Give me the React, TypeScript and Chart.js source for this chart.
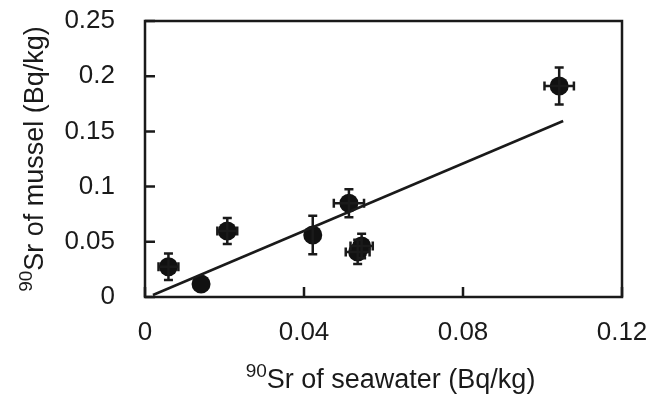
import React, { useEffect, useRef } from "react";
import { Chart, registerables } from "chart.js";

Chart.register(...registerables);

// Measured data (x: 90Sr of seawater, y: 90Sr of mussel), Bq/kg
const xValues = [0.0059, 0.0141, 0.0207, 0.0422, 0.0513, 0.0535, 0.0545, 0.1042];
const yValues = [0.0274, 0.0118, 0.0598, 0.0562, 0.0849, 0.0408, 0.0462, 0.1911];
const xErrors = [0.0025, 0, 0.0025, 0, 0.0038, 0.003, 0.0028, 0.0037];
const yErrors = [0.012, 0, 0.0118, 0.0175, 0.0127, 0.011, 0.011, 0.0168];

// Regression line end points
const fitX = [0.002, 0.1052];
const fitY = [0.0018, 0.1594];

// Axis ticks
const xTickValues = [0, 0.04, 0.08, 0.12];
const xTickLabels = ["0", "0.04", "0.08", "0.12"];
const yTickValues = [0, 0.05, 0.1, 0.15, 0.2, 0.25];
const yTickLabels = ["0", "0.05", "0.1", "0.15", "0.2", "0.25"];

const xTitleSup = "90";
const xTitleMain = "Sr of seawater (Bq/kg)";
const yTitleSup = "90";
const yTitleMain = "Sr of mussel (Bq/kg)";

const INK = "#1a1a1a";
const FONT = "'Liberation Sans', Arial, sans-serif";

const errorBarPlugin = {
  id: "errorBars",
  afterDatasetsDraw(chart: any) {
    const { ctx, scales } = chart;
    const xs = scales.x;
    const ys = scales.y;
    ctx.save();
    ctx.strokeStyle = INK;
    ctx.lineWidth = 2.5;
    const cap = 4.5;
    for (let i = 0; i < xValues.length; i++) {
      const px = xs.getPixelForValue(xValues[i]);
      const py = ys.getPixelForValue(yValues[i]);
      if (yErrors[i] > 0) {
        const t = ys.getPixelForValue(yValues[i] + yErrors[i]);
        const b = ys.getPixelForValue(yValues[i] - yErrors[i]);
        ctx.beginPath();
        ctx.moveTo(px, t); ctx.lineTo(px, b);
        ctx.moveTo(px - cap, t); ctx.lineTo(px + cap, t);
        ctx.moveTo(px - cap, b); ctx.lineTo(px + cap, b);
        ctx.stroke();
      }
      if (xErrors[i] > 0) {
        const l = xs.getPixelForValue(xValues[i] - xErrors[i]);
        const r = xs.getPixelForValue(xValues[i] + xErrors[i]);
        ctx.beginPath();
        ctx.moveTo(l, py); ctx.lineTo(r, py);
        ctx.moveTo(l, py - cap); ctx.lineTo(l, py + cap);
        ctx.moveTo(r, py - cap); ctx.lineTo(r, py + cap);
        ctx.stroke();
      }
    }
    ctx.restore();
  },
};

function drawSupTitle(ctx: any, sup: string, main: string, supRaise: number) {
  ctx.font = `19px ${FONT}`;
  const ws = ctx.measureText(sup).width;
  ctx.font = `27px ${FONT}`;
  const wm = ctx.measureText(main).width;
  const start = -(ws + wm) / 2;
  ctx.textAlign = "left";
  ctx.textBaseline = "alphabetic";
  ctx.font = `19px ${FONT}`;
  ctx.fillText(sup, start, -supRaise);
  ctx.font = `27px ${FONT}`;
  ctx.fillText(main, start + ws, 0);
}

const framePlugin = {
  id: "frame",
  afterDraw(chart: any) {
    const { ctx, chartArea, scales } = chart;
    const { left, right, top, bottom } = chartArea;
    ctx.save();
    ctx.strokeStyle = INK;
    ctx.lineWidth = 2.5;
    ctx.strokeRect(left, top, right - left, bottom - top);
    // inward ticks
    const tl = 10;
    ctx.beginPath();
    for (const v of scales.y.ticks.map((t: any) => t.value)) {
      const py = scales.y.getPixelForValue(v);
      ctx.moveTo(left, py);
      ctx.lineTo(left + tl, py);
    }
    for (const v of scales.x.ticks.map((t: any) => t.value)) {
      const px = scales.x.getPixelForValue(v);
      ctx.moveTo(px, bottom);
      ctx.lineTo(px, bottom - tl);
    }
    ctx.stroke();

    ctx.fillStyle = INK;
    // x title
    ctx.save();
    ctx.translate((left + right) / 2 + 7, 388);
    drawSupTitle(ctx, xTitleSup, xTitleMain, 11);
    ctx.restore();
    // y title
    ctx.save();
    ctx.translate(43, (top + bottom) / 2);
    ctx.rotate(-Math.PI / 2);
    drawSupTitle(ctx, yTitleSup, yTitleMain, 11);
    ctx.restore();
    ctx.restore();
  },
};

export default function App() {
  const ref = useRef<HTMLCanvasElement | null>(null);
  useEffect(() => {
    if (!ref.current) return;
    const chart = new Chart(ref.current, {
      type: "scatter",
      data: {
        datasets: [
          {
            type: "line",
            data: fitX.map((x, i) => ({ x, y: fitY[i] })),
            borderColor: INK,
            borderWidth: 2.5,
            pointRadius: 0,
            fill: false,
          } as any,
          {
            data: xValues.map((x, i) => ({ x, y: yValues[i] })),
            backgroundColor: "#111111",
            borderWidth: 0,
            pointRadius: 9.5,
            pointHoverRadius: 9.5,
          },
        ],
      },
      options: {
        responsive: false,
        animation: false,
        events: [],
        layout: { padding: { left: 0, top: 21, right: 38, bottom: 0 } },
        plugins: {
          legend: { display: false },
          tooltip: { enabled: false },
        },
        scales: {
          x: {
            type: "linear",
            min: 0,
            max: 0.12,
            afterBuildTicks: (scale: any) => {
              scale.ticks = xTickValues.map((v) => ({ value: v }));
            },
            afterFit: (scale: any) => {
              scale.height = 99;
              scale.paddingLeft = 0;
              scale.paddingRight = 0;
            },
            grid: { display: false, drawTicks: false },
            border: { display: false },
            ticks: {
              padding: 20,
              color: INK,
              font: { family: FONT, size: 26 },
              callback: (v: any) => {
                const i = xTickValues.findIndex((t) => Math.abs(t - v) < 1e-9);
                return i >= 0 ? xTickLabels[i] : "";
              },
            },
          },
          y: {
            type: "linear",
            min: 0,
            max: 0.25,
            afterBuildTicks: (scale: any) => {
              scale.ticks = yTickValues.map((v) => ({ value: v }));
            },
            afterFit: (scale: any) => {
              scale.width = 145;
              scale.paddingTop = 0;
              scale.paddingBottom = 0;
            },
            grid: { display: false, drawTicks: false },
            border: { display: false },
            ticks: {
              padding: 30,
              color: INK,
              font: { family: FONT, size: 26 },
              callback: (v: any) => {
                const i = yTickValues.findIndex((t) => Math.abs(t - v) < 1e-9);
                return i >= 0 ? yTickLabels[i] : "";
              },
            },
          },
        },
      },
      plugins: [errorBarPlugin, framePlugin],
    });
    return () => chart.destroy();
  }, []);
  return (
    <div style={{ position: "absolute", left: 0, top: 0, width: 660, height: 396, background: "#fff" }}>
      <canvas ref={ref} width={660} height={396} />
    </div>
  );
}
